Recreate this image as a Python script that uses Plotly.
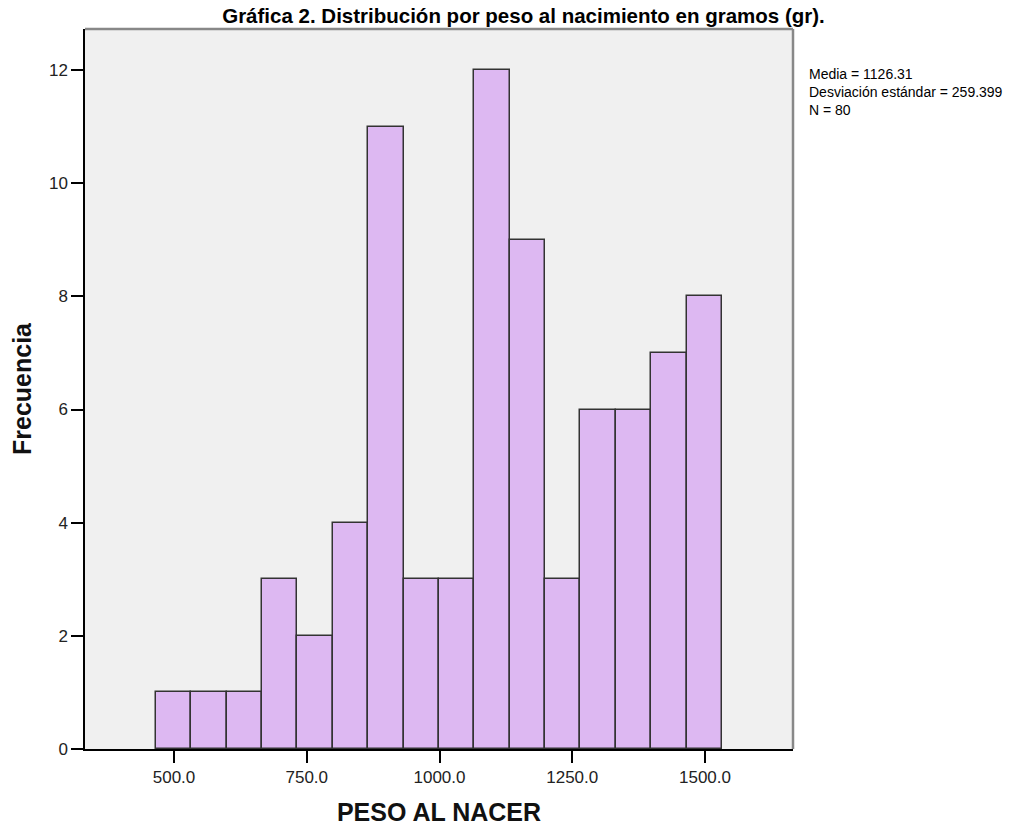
import plotly.graph_objects as go

# Data
bin_lower = [466.0, 532.6, 599.2, 665.9, 732.5, 799.1, 865.7, 932.4,
             999.0, 1065.6, 1132.2, 1198.9, 1265.5, 1332.1, 1398.7, 1465.4]
bin_width = 66.6
counts = [1, 1, 1, 3, 2, 4, 11, 3, 3, 12, 9, 3, 6, 6, 7, 8]
x_ticks = [500, 750, 1000, 1250, 1500]
x_tick_labels = ["500.0", "750.0", "1000.0", "1250.0", "1500.0"]
y_ticks = [0, 2, 4, 6, 8, 10, 12]
stats_lines = ["Media = 1126.31", "Desviación estándar = 259.399", "N = 80"]

centers = [b + bin_width / 2 for b in bin_lower]

W, H = 1036, 828
ML, MR, MT, MB = 85, 243, 29, 79

fig = go.Figure()
fig.add_trace(go.Bar(
    x=centers, y=counts, width=[bin_width] * len(counts),
    marker=dict(color="#DDB8F2", line=dict(color="#333333", width=1.5)),
    hoverinfo="x+y",
))

fig.update_layout(
    width=W, height=H,
    margin=dict(l=ML, r=MR, t=MT, b=MB, autoexpand=False),
    paper_bgcolor="white", plot_bgcolor="#F0F0F0",
    showlegend=False,
    title=dict(text="<b>Gráfica 2. Distribución por peso al nacimiento en gramos (gr).</b>",
               x=523.5 / W, xanchor="center", xref="container",
               y=1 - 16 / H, yanchor="middle",
               font=dict(family="Liberation Sans, Arial", size=20.5, color="black")),
    font=dict(family="Liberation Sans, Arial, sans-serif", size=17, color="#222222"),
    bargap=0,
)
fig.update_xaxes(
    range=[332.4, 1665.7], tickvals=x_ticks, ticktext=x_tick_labels,
    ticks="outside", ticklen=12, tickwidth=1.5, tickcolor="black",
    showline=True, linecolor="black", linewidth=1.5, mirror=False,
    showgrid=False, zeroline=False, automargin=False,
    title=dict(text="<b>PESO AL NACER</b>", font=dict(size=25, color="#111111"), standoff=17),
)
fig.update_yaxes(
    range=[0, 12.725], tickvals=y_ticks,
    ticks="outside", ticklen=12, tickwidth=1.5, tickcolor="black",
    showline=True, linecolor="black", linewidth=1.5, mirror=False,
    showgrid=False, zeroline=False, automargin=False,
    title=dict(text="<b>Frecuencia</b>", font=dict(size=25, color="#111111"), standoff=10),
)
# frame top/right
fig.add_shape(type="line", xref="paper", yref="paper", x0=0, y0=1, x1=1, y1=1,
              line=dict(color="#888888", width=2.5), layer="above")
fig.add_shape(type="line", xref="paper", yref="paper", x0=1, y0=0, x1=1, y1=1,
              line=dict(color="#888888", width=2.5), layer="above")

fig.add_annotation(text="<br>".join(stats_lines), xref="paper", yref="paper",
                   x=(807 - ML) / (W - ML - MR), y=(H - MB - 64) / (H - MT - MB),
                   xanchor="left", yanchor="top", align="left", showarrow=False,
                   font=dict(family="Liberation Sans, Arial", size=14, color="black"))

fig.write_html("out.html")
